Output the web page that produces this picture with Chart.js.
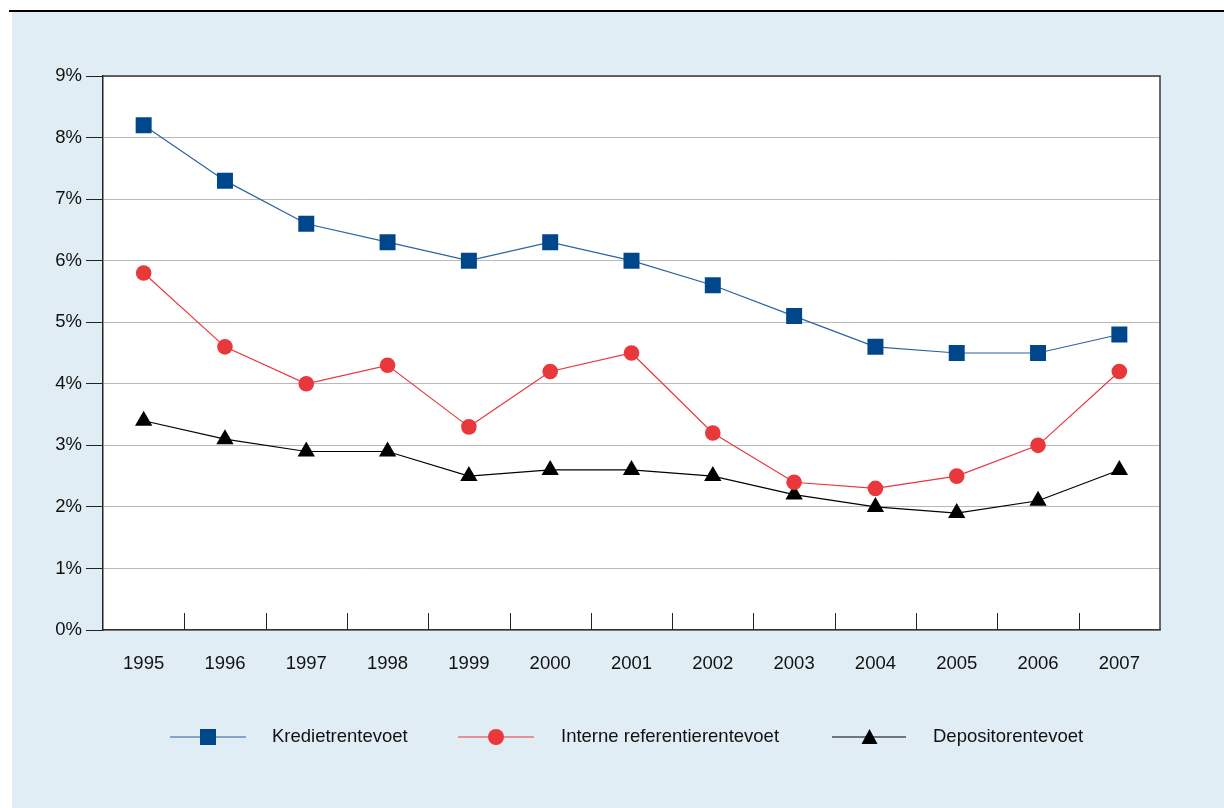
<!DOCTYPE html>
<html>
<head>
<meta charset="utf-8">
<script src="https://cdn.jsdelivr.net/npm/chart.js@4/dist/chart.umd.min.js"></script>
<style>
  html, body { margin: 0; padding: 0; background: #ffffff; width: 1224px; height: 808px; overflow: hidden; }
  #topline { position: absolute; left: 9px; top: 10px; width: 1215px; height: 2px; background: #000; }
  #panel { position: absolute; left: 12px; top: 12px; width: 1212px; height: 796px; background: #e0edf5; }
  #wrap { position: absolute; left: 0; top: 0; width: 1224px; height: 808px; }
  .leg { position: absolute; font-family: "Liberation Sans", Arial, sans-serif; font-size: 18.5px; color: #111; top: 725px; line-height: 22px; }
  svg.sym { position: absolute; top: 727px; }
</style>
</head>
<body>
<div id="topline"></div>
<div id="panel"></div>
<div id="wrap"><canvas id="c" width="1224" height="808"></canvas></div>

<svg class="sym" style="left:168px" width="80" height="20">
  <line x1="2" y1="10" x2="78" y2="10" stroke="#2a63a4" stroke-width="1.2"/>
  <rect x="32" y="2" width="16" height="16" fill="#00468b"/>
</svg>
<div class="leg" style="left:272px">Kredietrentevoet</div>

<svg class="sym" style="left:456px" width="80" height="20">
  <line x1="2" y1="10" x2="78" y2="10" stroke="#e8383c" stroke-width="1.2"/>
  <circle cx="40" cy="10" r="8" fill="#e8383c"/>
</svg>
<div class="leg" style="left:561px">Interne referentierentevoet</div>

<svg class="sym" style="left:830px" width="80" height="20">
  <line x1="2" y1="10" x2="76" y2="10" stroke="#000" stroke-width="1.2"/>
  <polygon points="39.5,2 47.5,17 31.5,17" fill="#000"/>
</svg>
<div class="leg" style="left:933px">Depositorentevoet</div>

<script>
const years = ['1995','1996','1997','1998','1999','2000','2001','2002','2003','2004','2005','2006','2007'];
const kredietrentevoet = [8.2, 7.3, 6.6, 6.3, 6.0, 6.3, 6.0, 5.6, 5.1, 4.6, 4.5, 4.5, 4.8];
const interneReferentierentevoet = [5.8, 4.6, 4.0, 4.3, 3.3, 4.2, 4.5, 3.2, 2.4, 2.3, 2.5, 3.0, 4.2];
const depositorentevoet = [3.4, 3.1, 2.9, 2.9, 2.5, 2.6, 2.6, 2.5, 2.2, 2.0, 1.9, 2.1, 2.6];
const yTicks = [0, 1, 2, 3, 4, 5, 6, 7, 8, 9];

const FONT = '"Liberation Sans", Arial, sans-serif';

const framePlugin = {
  id: 'frame',
  beforeDraw(chart) {
    const { ctx, chartArea: a } = chart;
    ctx.save();
    ctx.fillStyle = '#ffffff';
    ctx.fillRect(a.left, a.top, a.right - a.left, a.bottom - a.top);
    ctx.restore();
  },
  afterDraw(chart) {
    const { ctx, chartArea: a } = chart;
    const xs = chart.scales.x;
    ctx.save();
    ctx.strokeStyle = '#3a3a3a';
    ctx.lineWidth = 1.5;
    ctx.beginPath();
    ctx.moveTo(a.left, a.top); ctx.lineTo(a.right, a.top); ctx.lineTo(a.right, a.bottom);
    ctx.stroke();
    ctx.lineWidth = 1;
    ctx.strokeStyle = '#222';
    for (let i = 1; i < years.length; i++) {
      const x = Math.round((xs.getPixelForValue(i - 1) + xs.getPixelForValue(i)) / 2) + 0.5;
      ctx.beginPath();
      ctx.moveTo(x, a.bottom - 17);
      ctx.lineTo(x, a.bottom);
      ctx.stroke();
    }
    ctx.restore();
  }
};

new Chart(document.getElementById('c'), {
  type: 'line',
  data: {
    labels: years,
    datasets: [
      {
        label: 'Kredietrentevoet',
        data: kredietrentevoet,
        borderColor: '#2a63a4',
        backgroundColor: '#00468b',
        borderWidth: 1.2,
        pointStyle: 'rect',
        pointRadius: 11.3,
        pointBorderWidth: 0,
        pointBackgroundColor: '#00468b',
        tension: 0
      },
      {
        label: 'Interne referentierentevoet',
        data: interneReferentierentevoet,
        borderColor: '#e8383c',
        backgroundColor: '#e8383c',
        borderWidth: 1.2,
        pointStyle: 'circle',
        pointRadius: 7.8,
        pointBorderWidth: 0,
        pointBackgroundColor: '#e8383c',
        tension: 0
      },
      {
        label: 'Depositorentevoet',
        data: depositorentevoet,
        borderColor: '#000000',
        backgroundColor: '#000000',
        borderWidth: 1.2,
        pointStyle: 'triangle',
        pointRadius: 10,
        pointBorderWidth: 0,
        pointBackgroundColor: '#000000',
        tension: 0
      }
    ]
  },
  options: {
    responsive: false,
    animation: false,
    devicePixelRatio: 1,
    layout: { padding: { left: 0, top: 76, right: 64, bottom: 0 } },
    plugins: { legend: { display: false }, tooltip: { enabled: false } },
    scales: {
      x: {
        offset: true,
        grid: { display: false, drawTicks: false },
        border: { display: true, color: '#333', width: 1.5 },
        ticks: { color: '#111', font: { family: FONT, size: 18.5 }, padding: 23, maxRotation: 0 },
        afterFit(scale) { scale.height = 178; }
      },
      y: {
        min: 0, max: 9,
        afterBuildTicks(scale) { scale.ticks = yTicks.map(v => ({ value: v })); },
        grid: {
          color: '#b9b9b9',
          lineWidth: 1,
          tickLength: 17,
          tickColor: '#222',
          drawTicks: true
        },
        border: { display: true, color: '#222', width: 1.5 },
        ticks: {
          color: '#111',
          font: { family: FONT, size: 18.5 },
          padding: 4,
          callback: v => v + '%'
        },
        afterFit(scale) { scale.width = 103; }
      }
    }
  },
  plugins: [framePlugin]
});
</script>
</body>
</html>
